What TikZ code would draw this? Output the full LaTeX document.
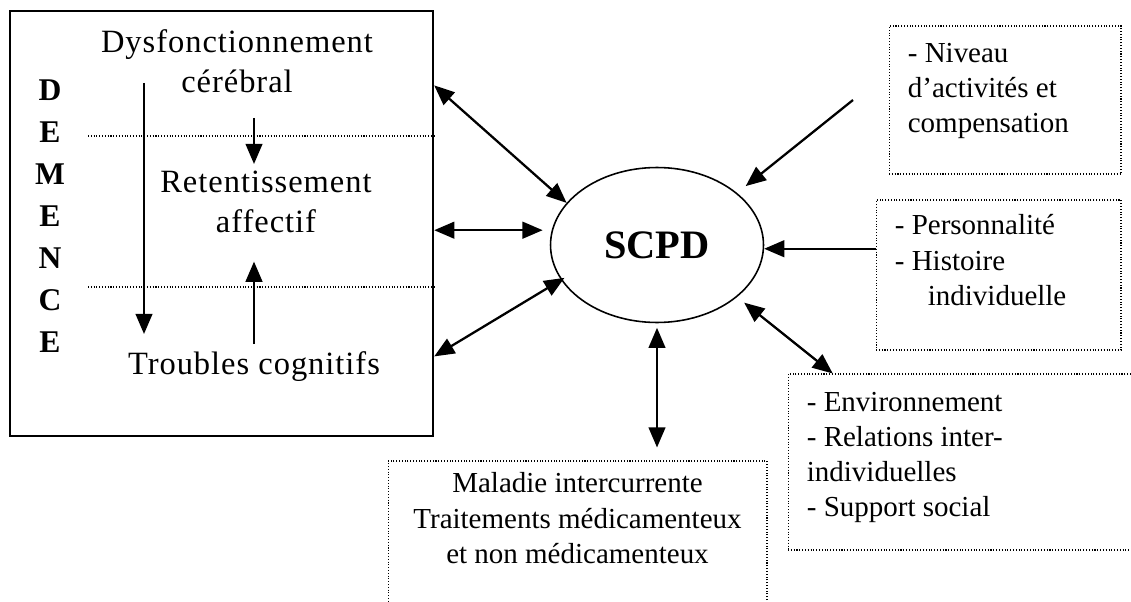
\documentclass[tikz,border=0pt]{standalone}
\usepackage{fontspec}
\setmainfont{Liberation Serif}
\usetikzlibrary{shapes.geometric}
\usetikzlibrary{positioning}
\usetikzlibrary{arrows.meta}
\tikzset{x=0.02cm, y=-0.02cm,
         every node/.style={inner sep=0pt},
         txt/.style={font=\fontsize{16.5}{20}\selectfont, align=left},
         bigtxt/.style={font=\fontsize{18.5}{22.8}\selectfont\addfontfeature{LetterSpace=3}, align=center},
         letters/.style={font=\bfseries\fontsize{18}{23.9}\selectfont, align=center},
         dotbox/.style={draw, densely dotted, line width=0.6pt},
         sepline/.style={densely dotted, line width=0.6pt},
         arr/.style={-{Triangle[length=11.5pt,width=9.5pt]}, line width=1.3pt},
         dblarr/.style={{Triangle[length=11.5pt,width=9.5pt]}-{Triangle[length=11.5pt,width=9.5pt]}, line width=1.3pt} }

\begin{document}
\begin{tikzpicture}
    \useasboundingbox (0,0) rectangle (1131,601);
    \clip (0,0) rectangle (1131,601);
    % bloc demence
    \node[draw, line width=1.4pt, minimum width=8.46cm, minimum height=8.5cm] (demence) at (221.5,223.5) {};
    \node[letters, anchor=north] (demlbl) at (50,79) {D\\E\\M\\E\\N\\C\\E};
    \node[bigtxt, anchor=north] (dysf) at (237,29) {Dysfonctionnement\\cérébral};
    \node[bigtxt, anchor=north] (retent) at (266,171) {Retentissement\\affectif};
    \node[bigtxt, anchor=north] (troubles) at (254,351) {Troubles cognitifs};
    \coordinate (sep1) at (88,136);
    \coordinate (sep2) at (88,287);
    \draw[sepline] (sep1) -- (sep1 -| demence.east);
    \draw[sepline] (sep2) -- (sep2 -| demence.east);
    \coordinate (lng) at (144,83);
    \draw[arr, shorten >=0.34cm] (lng) -- (lng |- troubles.north);
    \draw[arr, shorten <=0.5cm, shorten >=0.14cm] (troubles |- dysf.south) -- (troubles |- retent.north);
    \draw[arr, shorten <=0.14cm, shorten >=0.56cm] (troubles.north) -- (troubles |- retent.south);

    % centre
    \node[ellipse, draw, line width=0.9pt, minimum width=4.26cm, minimum height=3.1cm,
          font=\bfseries\fontsize{23}{27}\selectfont] (scpd) at (657,245) {SCPD};

    % facteurs
    \node[dotbox, minimum width=4.64cm, minimum height=2.96cm] (niveau) at (1005,100) {};
    \node[txt, below right=0.34cm and 0.38cm of niveau.north west] (niveautxt) {- Niveau\\d’activités et\\compensation};
    \node[dotbox, minimum width=4.9cm, minimum height=3cm] (perso) at (998.5,275) {};
    \node[txt, below right=0.30cm and 0.38cm of perso.north west] (persotxt) {- Personnalité\\- Histoire\\\hspace*{0.66cm}individuelle};
    \node[dotbox, minimum width=7.04cm, minimum height=3.52cm] (env) at (964,462) {};
    \node[txt, below right=0.36cm and 0.38cm of env.north west] (envtxt) {- Environnement\\- Relations inter-\\individuelles\\- Support social};
    \node[dotbox, minimum width=7.58cm, minimum height=3.58cm] (maladie) at (577.5,550.5) {};
    \node[txt, align=center, below=0.24cm of maladie.north] (maladietxt) {Maladie intercurrente\\Traitements médicamenteux\\et non médicamenteux};

    % liens
    \draw[dblarr] (demence.33) -- (scpd.155);
    \draw[dblarr, shorten >=0.18cm] (scpd.172 -| demence.east) -- (scpd.172);
    \draw[dblarr, shorten >=-0.08cm] (demence.-32) -- (scpd.200);
    \draw[dblarr, shorten <=0.09cm, shorten >=0.26cm] (scpd.south) -- (scpd.south |- maladie.north);
    \coordinate (nivstart) at (853,100);
    \draw[arr, shorten >=0.22cm] (nivstart) -- (scpd.33);
    \draw[arr] (scpd.-2 -| perso.west) -- (scpd.-2);
    \draw[dblarr, shorten <=0.18cm] (scpd.-33) -- (env.146);
\end{tikzpicture}
\end{document}
